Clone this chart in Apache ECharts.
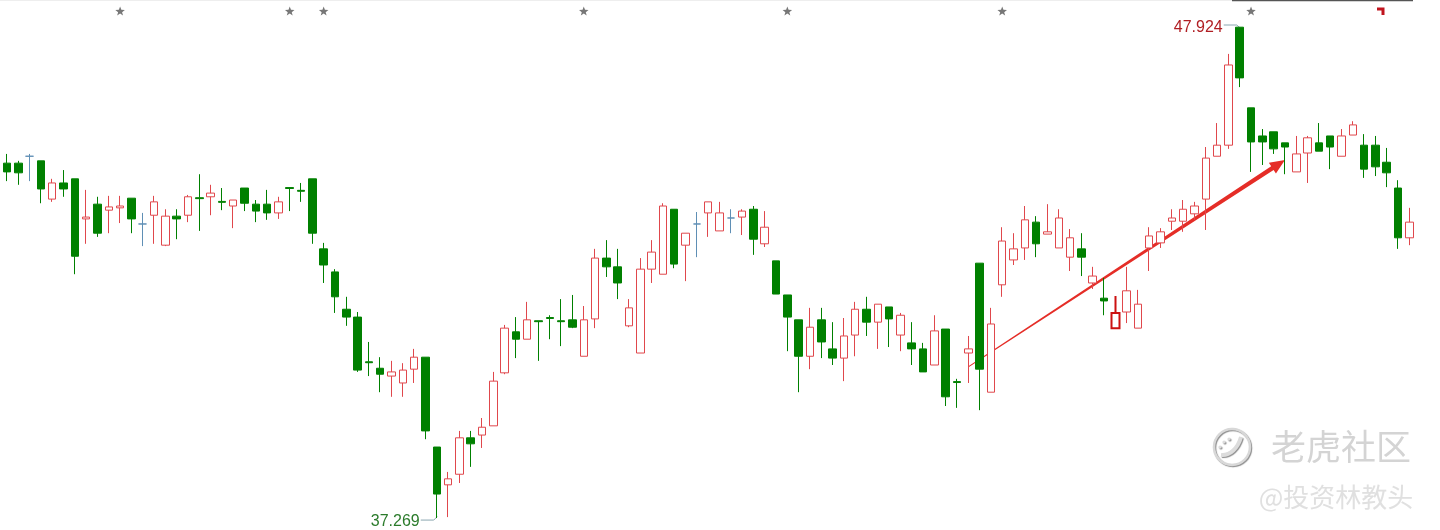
<!DOCTYPE html>
<html><head><meta charset="utf-8">
<script src="https://cdn.jsdelivr.net/npm/echarts@6/dist/echarts.min.js"></script>
<style>html,body{margin:0;padding:0;background:#fff}#c{width:1440px;height:530px}</style>
</head><body><div id="c"></div>
<script>
const categories = Array.from({length: 125}, (_, i) => 'D' + (i + 1));
const open = [44.97,44.97,45.12,45.02,44.19,44.54,44.63,43.76,44.08,43.95,
44.00,44.21,43.65,43.84,43.19,43.82,43.84,44.22,44.24,44.14,
44.04,44.43,44.08,44.08,43.89,44.44,44.38,44.63,43.11,42.61,
41.80,41.63,40.66,40.52,40.35,40.20,40.50,40.76,38.81,37.99,
38.22,39.01,39.07,39.27,40.42,41.31,41.15,41.55,41.62,41.55,
41.57,40.78,41.59,42.91,42.72,41.44,40.85,42.67,42.56,43.97,
43.19,43.65,43.89,43.50,43.78,43.80,43.97,43.22,42.85,42.11,
41.57,40.78,41.57,40.94,40.74,41.24,41.80,41.52,41.85,41.24,
41.07,40.94,40.59,41.37,40.23,40.85,42.80,40.00,42.33,42.87,
43.13,43.69,43.43,43.13,42.93,43.11,42.37,42.04,41.39,41.74,
41.39,43.13,43.24,43.71,43.71,43.87,44.19,45.12,45.36,47.92,
46.17,45.56,45.65,45.41,44.78,45.19,45.41,45.56,45.12,45.58,
45.36,45.36,44.99,44.43,43.35];
const close = [44.78,44.76,45.12,44.41,44.54,44.41,42.95,43.80,43.45,44.02,
44.04,43.76,43.65,44.13,43.82,43.76,44.24,44.20,44.32,44.12,
44.17,44.10,43.93,43.89,44.13,44.42,44.36,43.45,42.76,42.07,
41.63,40.48,40.64,40.39,40.44,40.48,40.76,39.16,37.79,38.12,
39.01,38.88,39.24,40.24,41.39,41.15,41.57,41.53,41.60,41.53,
41.41,41.57,42.91,42.72,42.37,41.83,42.67,43.04,44.04,42.78,
43.45,43.65,44.13,43.89,43.78,43.93,43.32,43.58,42.13,41.63,
40.78,41.41,41.09,40.74,41.22,41.80,41.52,41.91,41.59,41.67,
40.94,40.44,41.33,39.90,40.21,40.94,40.50,41.48,43.28,43.11,
43.74,43.22,43.48,43.78,43.35,42.93,42.52,41.98,41.72,42.20,
41.91,43.39,43.48,43.78,43.97,44.04,45.08,45.36,47.10,46.82,
45.43,45.43,45.28,45.32,45.17,45.52,45.23,45.32,45.56,45.80,
44.84,44.89,44.76,43.35,43.69];
const low = [44.58,44.50,44.58,44.10,44.13,44.24,42.56,43.22,43.37,43.45,
43.67,43.45,43.17,43.22,43.17,43.32,43.69,43.50,43.84,43.95,
43.56,43.93,43.69,43.74,43.76,43.93,44.13,43.22,42.37,41.72,
41.44,40.44,40.35,40.00,39.90,39.90,40.20,38.98,37.269,37.29,
38.03,38.38,38.79,39.27,40.39,40.74,41.15,40.68,41.15,41.00,
41.39,40.78,41.39,42.50,42.02,41.41,40.85,42.37,42.56,42.69,
42.41,42.93,43.37,43.50,43.45,43.41,42.98,43.15,42.13,40.89,
40.00,40.50,40.74,40.59,40.24,40.78,41.22,40.94,40.98,40.89,
40.59,40.44,40.59,39.70,39.66,40.20,39.61,40.00,42.07,42.76,
42.87,42.93,43.43,43.13,42.63,42.52,42.24,41.67,41.39,41.50,
41.39,42.63,43.13,43.52,43.48,43.74,43.52,45.12,45.28,46.62,
44.78,44.93,45.17,44.73,44.78,44.54,45.23,44.84,45.12,45.58,
44.65,44.69,44.45,43.11,43.19];
const high = [45.17,45.02,45.17,45.02,44.63,44.82,44.63,44.39,44.24,44.26,
44.26,44.21,43.89,44.26,43.97,43.97,44.28,44.73,44.50,44.43,
44.17,44.43,44.17,44.39,44.24,44.44,44.54,44.63,43.24,42.67,
42.07,41.74,41.09,40.76,40.68,40.63,40.94,40.76,38.81,38.27,
39.16,39.16,39.44,40.44,41.46,41.63,41.96,41.55,41.67,42.02,
42.11,41.87,43.11,43.30,43.11,42.02,42.91,43.30,44.10,43.97,
43.45,43.91,44.13,44.13,43.97,43.97,44.04,43.93,42.85,42.11,
41.57,41.83,41.83,41.52,41.61,41.96,42.07,41.91,41.85,41.72,
41.52,41.07,41.67,41.37,40.29,41.22,42.80,41.83,43.58,43.45,
44.04,43.82,44.08,43.97,43.54,43.45,42.72,42.48,42.09,42.72,
42.22,43.58,43.56,43.97,44.17,44.13,45.32,45.84,47.34,47.924,
46.17,45.71,45.65,45.41,45.56,45.56,45.84,45.56,45.71,45.88,
45.60,45.56,45.30,44.60,44.00];
const starDays = [10, 25, 28, 51, 69, 88, 110];
const highIdx = 109, highLabel = '47.924';
const lowIdx = 38, lowLabel = '37.269';
const accentDay = 98;
const arrowFrom = [85, 40.55];
const arrowTo = [113, 45.04];

const RED = '#e0474c', GREEN = '#008000';
const candles = open.map((o, i) => {
  const v = [o, close[i], low[i], high[i]];
  if (i === accentDay) return {value: v, itemStyle: {borderColor: '#cc1111', borderWidth: 2}};
  return v;
});

const chart = echarts.init(document.getElementById('c'), null, {renderer: 'canvas'});
chart.setOption({
  animation: false,
  backgroundColor: '#fff',
  grid: {left: 1.35, right: 25, top: 0, bottom: 0},
  xAxis: {type: 'category', data: categories, show: false, boundaryGap: true},
  yAxis: {type: 'value', min: 37.01, max: 48.51, show: false},
  series: [{
    type: 'candlestick',
    data: candles,
    barWidth: 8,
    emphasis: {disabled: true},
    itemStyle: {color: '#fff', color0: GREEN, borderColor: RED, borderColor0: GREEN,
      borderColorDoji: '#5f8fb5', borderWidth: 1}
  }]
});

const px = (p) => chart.convertToPixel({seriesIndex: 0}, p);
const g = [];
// stars
function starPoints(cx, cy, R, r) {
  const pts = [];
  for (let k = 0; k < 10; k++) {
    const a = -Math.PI / 2 + k * Math.PI / 5;
    const rr = k % 2 === 0 ? R : r;
    pts.push([cx + rr * Math.cos(a), cy + rr * Math.sin(a)]);
  }
  return pts;
}
starDays.forEach(d => {
  const [x] = px([d, high[d]]);
  g.push({type: 'polygon', shape: {points: starPoints(x, 11.5, 5, 2.1)}, style: {fill: '#777'}, silent: true});
});
// top lines
g.push({type: 'line', shape: {x1: 0, y1: 0.5, x2: 1232, y2: 0.5}, style: {stroke: '#eeeeee', lineWidth: 1}});
g.push({type: 'line', shape: {x1: 1232, y1: 0.5, x2: 1413, y2: 0.5}, style: {stroke: '#555', lineWidth: 1.5}});
g.push({type: 'polyline', shape: {points: [[1377, 9], [1383, 9], [1383, 15]]}, style: {stroke: '#c0141e', lineWidth: 3, fill: null}});
// high/low labels
const [hx, hy] = px([highIdx, high[highIdx]]);
g.push({type: 'text', style: {text: highLabel, x: hx - 17, y: hy + 1, textAlign: 'right', textVerticalAlign: 'middle',
  font: '16px "Liberation Sans", Arial, sans-serif', fill: '#b01e23'}});
g.push({type: 'polyline', shape: {points: [[hx - 16, hy - 2], [hx - 3, hy - 2], [hx + 0.5, hy + 1]]},
  style: {stroke: '#8aa6b0', lineWidth: 1, fill: null}});
const [lx, ly] = px([lowIdx, low[lowIdx]]);
g.push({type: 'text', style: {text: lowLabel, x: lx - 17, y: ly + 3.5, textAlign: 'right', textVerticalAlign: 'middle',
  font: '16px "Liberation Sans", Arial, sans-serif', fill: '#2b7b2b'}});
g.push({type: 'polyline', shape: {points: [[lx - 16, ly + 2], [lx - 3, ly + 2], [lx + 0.5, ly - 1.5]]},
  style: {stroke: '#8aa6b0', lineWidth: 1, fill: null}});
// arrow
(function () {
  const [x0, y0] = px(arrowFrom), [x1, y1] = px(arrowTo);
  const dx = x1 - x0, dy = y1 - y0, L = Math.hypot(dx, dy);
  const ux = dx / L, uy = dy / L, nx = -uy, ny = ux;
  const hl = 15, hw = 6.5, w0 = 0.5, w1 = 2.2;
  const bx = x1 - ux * hl, by = y1 - uy * hl;
  g.push({type: 'polygon', shape: {points: [
    [x0 + nx * w0, y0 + ny * w0], [bx + nx * w1, by + ny * w1], [bx + nx * hw, by + ny * hw], [x1, y1],
    [bx - nx * hw, by - ny * hw], [bx - nx * w1, by - ny * w1], [x0 - nx * w0, y0 - ny * w0]]},
    style: {fill: '#e52d27'}});
})();
// watermark
const wmShadow = {shadowColor: 'rgba(0,0,0,0.45)', shadowOffsetX: 1, shadowOffsetY: 1, shadowBlur: 1};
g.push({type: 'circle', shape: {cx: 1232, cy: 447, r: 18}, style: Object.assign({fill: null, stroke: '#d8d8d8', lineWidth: 2.5}, wmShadow)});
g.push({type: 'bezierCurve', shape: {x1: 1221, y1: 455, cpx1: 1230, cpy1: 456, cpx2: 1238, cpy2: 448, x2: 1241, y2: 437},
  style: Object.assign({fill: null, stroke: '#dcdcdc', lineWidth: 4}, wmShadow)});
[[1220, 447], [1224, 442], [1229, 439]].forEach(([cx, cy]) => {
  g.push({type: 'circle', shape: {cx, cy, r: 1.6}, style: Object.assign({fill: '#dcdcdc'}, wmShadow)});
});
g.push({type: 'text', style: Object.assign({text: '老虎社区', x: 1341, y: 447, textAlign: 'center', textVerticalAlign: 'middle',
  font: '35px "Noto Sans CJK SC", sans-serif', fill: '#d4d4d4'}, wmShadow)});
g.push({type: 'text', style: Object.assign({text: '@投资林教头', x: 1336, y: 497, textAlign: 'center', textVerticalAlign: 'middle',
  font: '26px "Noto Sans CJK SC", sans-serif', fill: '#e0e0e0'}, wmShadow)});
chart.setOption({graphic: g});
</script></body></html>
